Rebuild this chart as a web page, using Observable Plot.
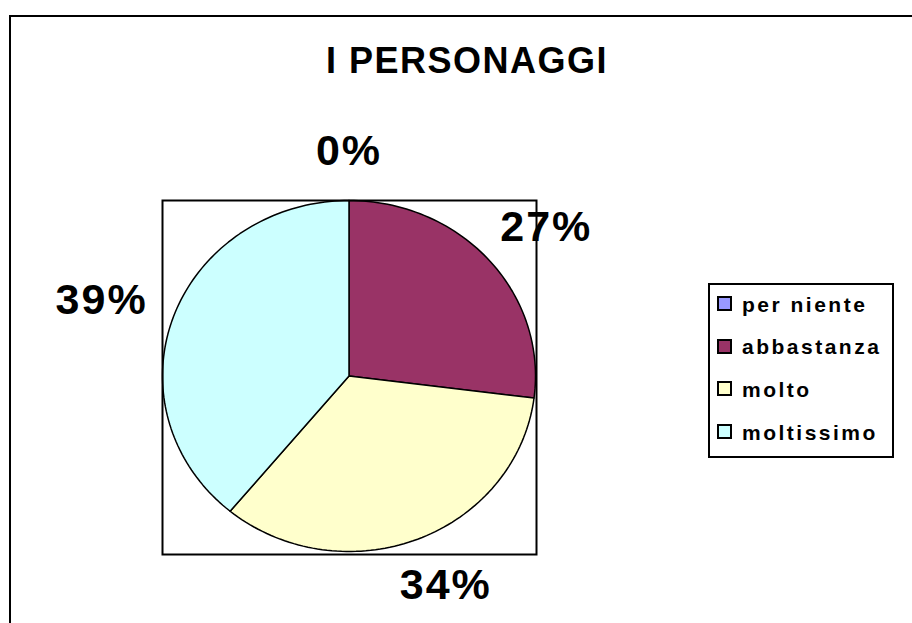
<!DOCTYPE html>
<html>
<head>
<meta charset="utf-8">
<script src="https://cdn.jsdelivr.net/npm/d3@7"></script>
<script src="https://cdn.jsdelivr.net/npm/@observablehq/plot@0.6"></script>
<style>
  html, body { margin: 0; padding: 0; background: #fff; overflow: hidden; }
  #wrap { position: relative; width: 912px; height: 623px; overflow: hidden; font-family: "Liberation Sans", Arial, sans-serif; }
  #chart { position: absolute; left: 0; top: 0; }
  #border { position: absolute; left: 9px; top: 15px; width: 1000px; height: 1000px; border-left: 2px solid #000; border-top: 2px solid #000; }
  #title { position: absolute; left: 467px; top: 43px; transform: translateX(-50%); font-size: 36px; line-height: 36px; font-weight: bold; letter-spacing: 1.5px; white-space: nowrap; color: #000; }
  #legend { position: absolute; left: 708px; top: 283px; width: 186px; height: 175px; border: 2px solid #000; box-sizing: border-box; background: #fff; }
  .item { position: absolute; left: 0; height: 0; }
  .sw { position: absolute; left: 7px; width: 11px; height: 11px; border: 2px solid #000; }
  .lab { position: absolute; left: 32px; font-size: 21px; line-height: 21px; font-weight: bold; letter-spacing: 2.5px; white-space: nowrap; color: #000; }
  #chart svg g[aria-label="text"] text { letter-spacing: 2px; }
</style>
</head>
<body>
<div id="wrap">
  <div id="chart"></div>
  <div id="border"></div>
  <div id="title"></div>
  <div id="legend"></div>
</div>
<script>
// ---- data ----
const title = "I PERSONAGGI";
const categories = ["per niente", "abbastanza", "molto", "moltissimo"];
const values = [0, 27, 34, 39];
const colors = ["#9999FF", "#993366", "#FFFFCC", "#CCFFFF"];

// ---- build slice outlines from the values ----
const total = d3.sum(values);
const slicePts = [];
const labels = [];
let acc = 0;
categories.forEach((cat, i) => {
  const s = acc / total, e = (acc + values[i]) / total;
  acc += values[i];
  slicePts.push({cat, x: 0, y: 0});
  const n = Math.max(2, Math.ceil((e - s) * 240) + 1);
  for (let k = 0; k < n; k++) {
    const f = s + (e - s) * k / (n - 1);
    const a = 2 * Math.PI * f;
    slicePts.push({cat, x: Math.sin(a), y: Math.cos(a)});
  }
  slicePts.push({cat, x: 0, y: 0});
  const m = 2 * Math.PI * (s + e) / 2;
  labels.push({text: values[i] + "%", x: 1.41 * Math.sin(m), y: 1.28 * Math.cos(m)});
});

const chart = Plot.plot({
  width: 912,
  height: 623,
  marginLeft: 162,
  marginRight: 376,
  marginTop: 200,
  marginBottom: 69,
  x: {domain: [-1, 1], range: [162, 535], axis: null},
  y: {domain: [-1, 1], range: [551, 200], axis: null},
  color: {domain: categories, range: colors},
  style: {background: "transparent", overflow: "visible"},
  marks: [
    Plot.line(slicePts, {x: "x", y: "y", z: "cat", fill: "cat", stroke: "#000", strokeWidth: 1.5, curve: "linear", strokeLinejoin: "round"}),
    Plot.frame({stroke: "#000", strokeWidth: 2}),
    Plot.text(labels, {x: "x", y: "y", text: "text", fontSize: 43, fontWeight: "bold", fontFamily: "'Liberation Sans', Arial, sans-serif", fill: "#000", textAnchor: "middle", lineAnchor: "middle"})
  ]
});
document.getElementById("chart").appendChild(chart);

document.getElementById("title").textContent = title;

const legend = document.getElementById("legend");
categories.forEach((cat, i) => {
  const baseline = 311 - 283 + i * 42.7;
  const item = document.createElement("div");
  item.className = "item";
  item.style.top = "0px";
  const sw = document.createElement("div");
  sw.className = "sw";
  sw.style.background = colors[i];
  sw.style.top = (baseline - 15 - 2) + "px";
  const lab = document.createElement("div");
  lab.className = "lab";
  lab.textContent = cat;
  lab.style.top = (baseline - 17.5 - 2) + "px";
  item.appendChild(sw);
  item.appendChild(lab);
  legend.appendChild(item);
});
</script>
</body>
</html>
